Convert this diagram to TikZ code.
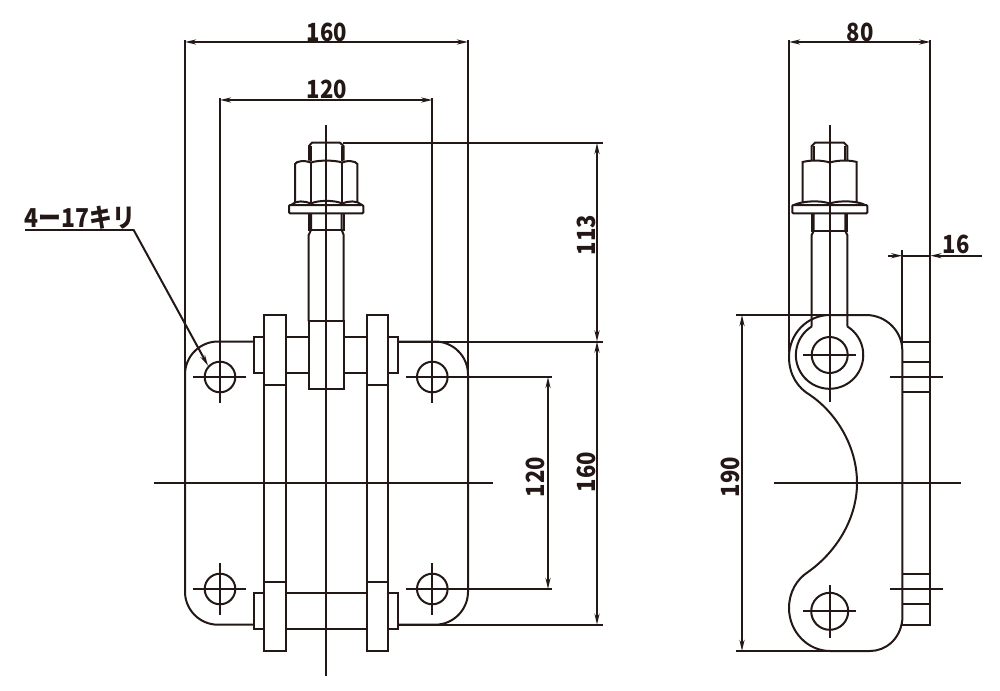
\documentclass[tikz,border=0pt]{standalone}
\usepackage{fontspec}
\setmainfont{Noto Sans CJK JP}[FakeStretch=0.88]
\usetikzlibrary{arrows.meta}
\definecolor{inkc}{HTML}{231815}
\tikzset{
  partline/.style={draw=inkc,line width=2pt},
  partfill/.style={partline,fill=white},
  thinline/.style={draw=inkc,line width=2pt},
  dimline/.style={thinline,{Stealth[length=11pt,width=5pt]}-{Stealth[length=11pt,width=5pt]}},
  leadline/.style={thinline,-{Stealth[length=11pt,width=5pt]}},
  dimtext/.style={text=inkc,font=\fontsize{25}{25}\selectfont\bfseries,inner sep=0pt}
}
\begin{document}
\begin{tikzpicture}[x=1pt,y=-1pt]
  \useasboundingbox (0,0) rectangle (1000,690);

  % front view
  \coordinate (ha) at (220,377);
  \coordinate (hb) at (432.3,377);
  \coordinate (hc) at (220,589);
  \coordinate (hd) at (432.3,589);
  \draw[partfill,rounded corners=33pt] (185,341.5) rectangle (468,624.7);
  \draw[partline] (ha) circle[radius=15.3pt];
  \draw[partline] (hb) circle[radius=15.3pt];
  \draw[partline] (hc) circle[radius=15.3pt];
  \draw[partline] (hd) circle[radius=15.3pt];
  \draw[partfill] (254,337.3) rectangle (398,372.7);
  \draw[partfill] (254,593.3) rectangle (398,629);
  \draw[partfill] (264.3,315) rectangle (285.7,651);
  \draw[partfill] (367,315) rectangle (388.3,651);
  \draw[partline] (264.3,385) -- (285.7,385);
  \draw[partline] (367,385) -- (388.3,385);
  \draw[partline] (264.3,581.7) -- (285.7,581.7);
  \draw[partline] (367,581.7) -- (388.3,581.7);
  \draw[partfill] (308.7,321.3) rectangle (343.7,388.7);
  \draw[partline] (308.7,321.3) -- (308.7,235) -- (311,230) -- (311,213);
  \draw[partline] (343.7,321.3) -- (343.7,235) -- (341.7,230) -- (341.7,213);
  \draw[partline] (309,213) -- (309,230) -- (343.7,230) -- (343.7,213);
  \draw[partline] (309,160.7) -- (309,146) -- (312,142.7) -- (340,142.7) -- (343.5,146) -- (343.5,160.7);
  \draw[partline] (311,160.7) -- (311,146);
  \draw[partline] (341.7,160.7) -- (341.7,146);
  \draw[partline] (295,203) -- (295,164) .. controls (296,161) and (305,160) .. (311,162.5) .. controls (318,160) and (335,160) .. (342,162.5) .. controls (347,160) and (356,161) .. (357.3,164) -- (357.3,203);
  \draw[partline] (311,162.5) -- (311,203);
  \draw[partline] (342,162.5) -- (342,203);
  \draw[partline] (291,205) .. controls (296,200) and (305,201) .. (311,203.5) .. controls (318,200) and (335,200) .. (342,203.5) .. controls (348,201) and (357,200) .. (362,205);
  \draw[partline,rounded corners=1pt] (289,205) rectangle (363.3,213.3);

  % side view
  \coordinate (ea) at (829.7,355);
  \coordinate (eb) at (829.7,611.3);
  \draw[partline] (902.3,341.7) rectangle (930.3,624.7);
  \draw[partline] (902.3,361.7) -- (930.3,361.7);
  \draw[partline] (902.3,391.7) -- (930.3,391.7);
  \draw[partline] (902.3,574) -- (930.3,574);
  \draw[partline] (902.3,604) -- (930.3,604);
  \draw[partfill] (830,315) -- (866,315) .. controls (886,315) and (902,331) .. (902.3,350) -- (902.3,620) .. controls (900,640) and (885,651) .. (870,651) -- (830,651) .. controls (808,651) and (789,632) .. (789,608) .. controls (789,592) and (797,579) .. (808,572) .. controls (835,553) and (857,520) .. (857,483) .. controls (857,445) and (835,412) .. (810,395) .. controls (798,388) and (789,375) .. (789,357) .. controls (789,334) and (807,315) .. (830,315);
  \draw[partline] (811.7,326.5) arc[start angle=122,end angle=418,radius=33.7pt];
  \draw[partline] (ea) circle[radius=18pt];
  \draw[partline] (eb) circle[radius=18.5pt];
  \draw[partline] (811.7,326.5) -- (811.7,235) -- (813.7,231) -- (813.7,213);
  \draw[partline] (847.3,326.5) -- (847.3,235) -- (845.3,231) -- (845.3,213);
  \draw[partline] (811.7,213) -- (811.7,231) -- (847.3,231) -- (847.3,213);
  \draw[partline] (811.7,160.7) -- (811.7,146) -- (815,142.7) -- (844,142.7) -- (847.3,146) -- (847.3,160.7);
  \draw[partline] (813.7,160.7) -- (813.7,146);
  \draw[partline] (845.3,160.7) -- (845.3,146);
  \draw[partline] (802.7,203) -- (802.7,162) .. controls (810,160) and (822,160) .. (829.7,162.5) .. controls (838,160) and (850,160) .. (856.7,162) -- (856.7,203);
  \draw[partline] (794,205) .. controls (802,201) and (820,200) .. (829.7,203.5) .. controls (840,200) and (858,201) .. (865,205);
  \draw[partline,rounded corners=1pt] (792.3,205) rectangle (867.3,213.3);

  % center lines
  \coordinate (cfa) at (326,125);
  \coordinate (cfb) at (326,676);
  \coordinate (cfc) at (154,483);
  \coordinate (cfd) at (493,483);
  \coordinate (csa) at (829.7,125);
  \coordinate (csb) at (829.7,402);
  \coordinate (csc) at (774,483);
  \coordinate (csd) at (961,483);
  \draw[thinline] (cfa) -- (cfb);
  \draw[thinline] (cfc) -- (cfd);
  \draw[thinline] (csa) -- (csb);
  \draw[thinline] (csc) -- (csd);
  \draw[thinline] (193,377) -- (246,377);
  \draw[thinline] (193,589) -- (246,589);
  \draw[thinline] (220,563) -- (220,615);
  \draw[thinline] (432.3,563) -- (432.3,615);
  \draw[thinline] (803,355) -- (856,355);
  \draw[thinline] (803,611.3) -- (856,611.3);
  \draw[thinline] (829.7,585) -- (829.7,637.7);
  \draw[thinline] (890,377) -- (943,377);
  \draw[thinline] (890,589) -- (943,589);

  % dimensions
  \coordinate (wa) at (185,42);
  \coordinate (wb) at (468,42);
  \coordinate (wc) at (220,100);
  \coordinate (wd) at (432.3,100);
  \coordinate (we) at (789,42);
  \coordinate (wf) at (930.3,42);
  \coordinate (ta) at (597,143);
  \coordinate (tb) at (597,341.5);
  \coordinate (tc) at (597,624.7);
  \coordinate (td) at (548,377);
  \coordinate (te) at (548,589);
  \coordinate (tf) at (742,315);
  \coordinate (tg) at (742,651);
  \draw[thinline] (185,40) -- (185,375);
  \draw[thinline] (468,40) -- (468,375);
  \draw[thinline] (220,98) -- (220,403);
  \draw[thinline] (432.3,98) -- (432.3,403);
  \draw[thinline] (789,40) -- (789,352);
  \draw[thinline] (930.3,40) -- (930.3,341.7);
  \draw[thinline] (902.3,250) -- (902.3,341.7);
  \draw[thinline] (343,142.7) -- (603,142.7);
  \draw[thinline] (398,341.5) -- (603,341.5);
  \draw[thinline] (398,624.7) -- (603,624.7);
  \draw[thinline] (406,377) -- (552,377);
  \draw[thinline] (406,589) -- (552,589);
  \draw[thinline] (736,315) -- (830,315);
  \draw[thinline] (736,651) -- (830,651);
  \draw[dimline] (wa) -- (wb);
  \draw[dimline] (wc) -- (wd);
  \draw[dimline] (we) -- (wf);
  \draw[dimline] (ta) -- (tb);
  \draw[dimline] (tb) -- (tc);
  \draw[dimline] (td) -- (te);
  \draw[dimline] (tf) -- (tg);
  \coordinate (ra) at (888,255.7);
  \coordinate (rb) at (902.3,255.7);
  \coordinate (rc) at (982,255.7);
  \coordinate (rd) at (930.3,255.7);
  \draw[leadline] (ra) -- (rb);
  \draw[leadline] (rc) -- (rd);
  \draw[thinline] (rb) -- (rd);
  \coordinate (la) at (25,229.7);
  \coordinate (lb) at (133.5,229.7);
  \coordinate (lc) at (208,365.7);
  \draw[thinline] (la) -- (lb);
  \draw[leadline] (lb) -- (lc);

  \node[dimtext] (w160) at (327,32) {160};
  \node[dimtext] (w120) at (327,89) {120};
  \node[dimtext] (w80) at (860,32) {80};
  \node[dimtext] (w16) at (956,244) {16};
  \node[dimtext,rotate=90] (h113) at (586,235) {113};
  \node[dimtext,rotate=90] (h160) at (586,472) {160};
  \node[dimtext,rotate=90] (h120) at (535,477) {120};
  \node[dimtext,rotate=90] (h190) at (730,477) {190};
  \node[dimtext,font=\fontsize{26}{26}\selectfont\bfseries] (hole) at (80,218) {4ー17キリ};
\end{tikzpicture}
\end{document}
